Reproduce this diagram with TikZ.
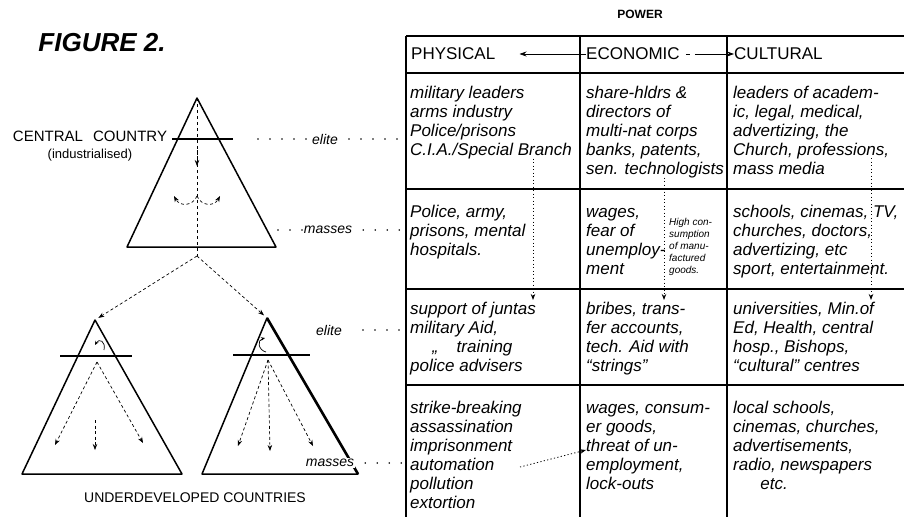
\documentclass[tikz,border=0pt]{standalone}
\usepackage{fontspec}
\setmainfont{Liberation Sans}
\usetikzlibrary{arrows.meta}
\begin{document}
\begin{tikzpicture}[x=1pt,y=-1pt,
    cell/.style={anchor=base west,align=left,inner sep=0pt,font=\fontsize{17}{19}\selectfont\itshape},
    hdr/.style={anchor=west,inner sep=0pt,font=\fontsize{17}{19}\selectfont},
    lvl/.style={inner sep=1pt,fill=white,font=\fontsize{14}{16}\selectfont\itshape},
    lead/.style={line width=1.7pt,line cap=round,dash pattern=on 0pt off 12pt},
    grid/.style={line width=1.1pt},
    tri/.style={line width=1.5pt,line join=round},
    flow/.style={line width=0.7pt,dash pattern=on 3pt off 2.5pt,-{Stealth[length=6pt,width=4.5pt]}},
    drop/.style={line width=0.8pt,dash pattern=on 1.2pt off 2.3pt,-{Stealth[length=6pt,width=4.5pt]}}]
\useasboundingbox (0,0) rectangle (904,517);
\node[font=\fontsize{26}{30}\selectfont\bfseries\itshape] (fig) at (102,43) {FIGURE 2.};
\node[font=\fontsize{12}{14}\selectfont\bfseries] (power) at (640,14) {POWER};
\coordinate (tl) at (406,36);
\draw[grid] (tl) -- (904,36);
\draw[grid] (406,73) -- (904,73);
\draw[grid] (406,189) -- (904,189);
\draw[grid] (406,289) -- (904,289);
\draw[grid] (406,385) -- (904,385);
\draw[grid] (tl) -- (406,517);
\draw[grid] (580,36) -- (580,517);
\draw[grid] (727,36) -- (727,517);
\node[hdr] (phys) at (411,54) {PHYSICAL};
\node[hdr] (econ) at (586,54) {ECONOMIC};
\node[hdr] (cult) at (734,54) {CULTURAL};
\draw[line width=0.7pt,-{Stealth[length=7pt,width=5pt]}] (econ.west) -- ([xshift=24pt]phys.east);
\draw[line width=0.7pt,dash pattern=on 4pt off 5pt on 40pt off 0pt,-{Stealth[length=7pt,width=5pt]}] ([xshift=6pt]econ.east) -- (cult.west);
\node[cell] (physA) at (410,155) {military leaders\\arms industry\\Police/prisons\\C.I.A./Special Branch};
\node[cell] (econA) at (586,174) {share-hldrs \&\\directors of\\multi-nat corps\\banks, patents,\\sen. technologists};
\node[cell] (cultA) at (733,174) {leaders of academ-\\ic, legal, medical,\\advertizing, the\\Church, professions,\\mass media};
\node[cell] (physB) at (410,255) {Police, army,\\prisons, mental\\hospitals.};
\node[cell] (econB) at (586,274) {wages,\\fear of\\unemploy-\\ment};
\node[font=\fontsize{10}{12}\selectfont\itshape,anchor=base west,align=left,inner sep=0pt] (hicon) at (669,273) {High con-\\sumption\\of manu-\\factured\\goods.};
\node[cell] (cultB) at (733,274) {schools, cinemas, TV,\\churches, doctors,\\advertizing, etc\\sport, entertainment.};
\node[cell] (physC) at (410,371) {support of juntas\\military Aid,\\\hspace*{1.3em},,\hspace*{1.1em}training\\police advisers};
\node[cell] (econC) at (586,371) {bribes, trans-\\fer accounts,\\tech. Aid with\\“strings”};
\node[cell] (cultC) at (733,371) {universities, Min.of\\Ed, Health, central\\hosp., Bishops,\\“cultural” centres};
\node[cell] (physD) at (410,508) {strike-breaking\\assassination\\imprisonment\\automation\\pollution\\extortion};
\node[cell] (econD) at (586,489) {wages, consum-\\er goods,\\threat of un-\\employment,\\lock-outs};
\node[cell] (cultD) at (733,489) {local schools,\\cinemas, churches,\\advertisements,\\radio, newspapers\\\hspace*{1.6em}etc.};
\coordinate (physdrop) at (533,300);
\coordinate (econdrop) at (664,300);
\coordinate (cultfrom) at (871,158);
\coordinate (cultdrop) at (871,300);
\draw[drop] (physA.south -| physdrop) -- (physdrop);
\draw[drop] (econA.south -| econdrop) -- (econdrop);
\draw[drop] (cultfrom) -- (cultdrop);
\coordinate (auto) at (520,467);
\coordinate (threat) at (586,450);
\draw[drop] (auto) -- (threat);
\coordinate (cTop) at (197,98);
\coordinate (cBL) at (127,247);
\coordinate (cBR) at (276,247);
\coordinate (fork) at (197,256);
\draw[tri] (cTop) -- (cBL) -- (cBR) -- cycle;
\draw[line width=1.2pt] (172,139) -- (233,139);
\draw[line width=0.7pt,dash pattern=on 3pt off 3pt] (cTop) -- (fork);
\draw[flow] (197,150) -- (197,166);
\draw[flow] (197,196) .. controls (193,206) and (180,207) .. (174,196);
\draw[flow] (197,196) .. controls (201,206) and (214,207) .. (220,196);
\node[font=\fontsize{15}{17}\selectfont] (central) at (90,136) {CENTRAL\hspace{0.4em} COUNTRY};
\node[font=\fontsize{13}{15}\selectfont] (indus) at (90,155) {(industrialised)};
\coordinate (lTop) at (95,320);
\coordinate (lBL) at (22,474);
\coordinate (lBR) at (182,474);
\coordinate (rTop) at (267,318);
\coordinate (rBL) at (202,474);
\coordinate (rBR) at (358,474);
\draw[tri] (lTop) -- (lBL) -- (lBR) -- cycle;
\draw[tri] (rTop) -- (rBL) -- (rBR) -- cycle;
\draw[line width=2.6pt] (rTop) -- (rBR);
\draw[flow,shorten >=4pt] (fork) -- (lTop);
\draw[flow,shorten >=4pt] (fork) -- (rTop);
\draw[line width=1.2pt] (60,356) -- (132,356);
\draw[line width=1.2pt] (233,355) -- (310,355);
\draw[line width=0.7pt,-{Stealth[length=4pt,width=3.5pt]}] (104,350) .. controls (106,341) and (99,338) .. (95,345);
\draw[line width=0.7pt,-{Stealth[length=4pt,width=3.5pt]}] (266,352) .. controls (258,350) and (257,340) .. (265,338);
\coordinate (lFrom) at (97,362);
\coordinate (lM1) at (55,445);
\coordinate (lM2) at (95,450);
\coordinate (lM3) at (143,443);
\coordinate (rFrom) at (268,360);
\coordinate (rM1) at (238,446);
\coordinate (rM2) at (270,451);
\coordinate (rM3) at (313,446);
\draw[flow] (lFrom) -- (lM1);
\draw[flow] (95,420) -- (lM2);
\draw[flow] (lFrom) -- (lM3);
\draw[flow] (rFrom) -- (rM1);
\draw[flow] (rFrom) -- (rM2);
\draw[flow] (rFrom) -- (rM3);
\node[font=\fontsize{14}{16}\selectfont] (under) at (195,498) {UNDERDEVELOPED COUNTRIES};
\node[lvl] (eliteA) at (325,139) {elite};
\node[lvl] (massA) at (328,230) {masses};
\node[lvl] (eliteB) at (329,330) {elite};
\node[lvl] (massB) at (330,463) {masses};
\draw[lead] (258,139) -- (eliteA.west);
\draw[lead] ([xshift=10pt]eliteA.east) -- (eliteA -| tl);
\draw[lead] (278,230) -- (massA.west);
\draw[lead] ([xshift=10pt]massA.east) -- (massA -| tl);
\draw[lead] ([xshift=20pt]eliteB.east) -- (eliteB -| tl);
\draw[lead] ([xshift=10pt]massB.east) -- (massB -| tl);
\end{tikzpicture}
\end{document}
